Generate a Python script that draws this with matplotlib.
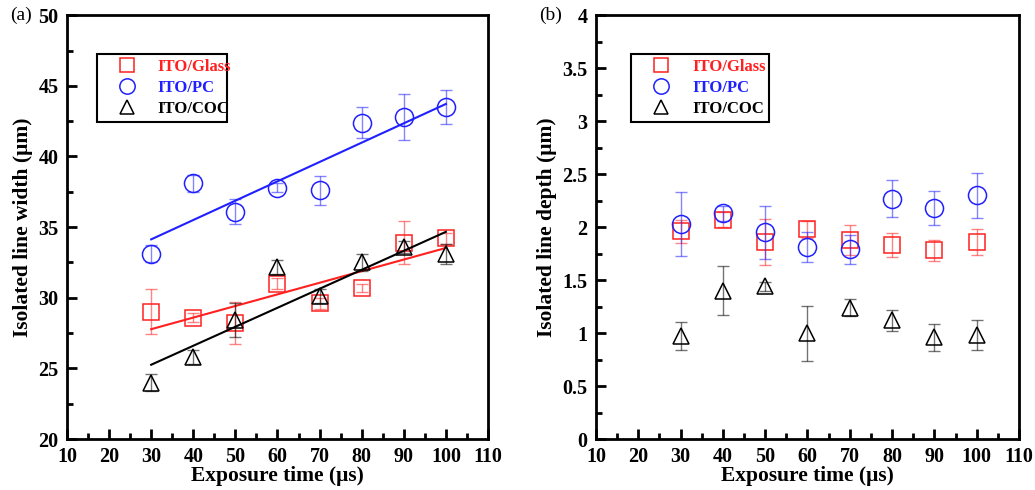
import matplotlib.pyplot as plt
import numpy as np
from matplotlib.ticker import MultipleLocator, FormatStrFormatter

#% Data
t = np.array([30, 40, 50, 60, 70, 80, 90, 100])

# (a) isolated line width [um]
w_glass = [29.0, 28.6, 28.2, 31.0, 29.6, 30.7, 33.9, 34.2]
w_glass_err = [1.6, 0.3, 1.5, 0.4, 0.4, 0.3, 1.5, 0.4]
w_pc = [33.1, 38.1, 36.1, 37.8, 37.6, 42.4, 42.8, 43.5]
w_pc_err = [0.6, 0.6, 0.9, 0.3, 1.0, 1.1, 1.6, 1.2]
w_coc = [24.0, 25.8, 28.4, 32.2, 30.1, 32.5, 33.6, 33.1]
w_coc_err = [0.6, 0.5, 1.2, 0.5, 0.5, 0.6, 0.4, 0.7]

# (b) isolated line depth [um]
d_glass = [1.96, 2.07, 1.86, 1.98, 1.88, 1.83, 1.78, 1.86]
d_glass_err = [0.11, 0.07, 0.22, 0.08, 0.14, 0.11, 0.10, 0.12]
d_pc = [2.03, 2.13, 1.95, 1.81, 1.79, 2.27, 2.18, 2.30]
d_pc_err = [0.30, 0.07, 0.25, 0.14, 0.14, 0.17, 0.16, 0.21]
d_coc = [0.97, 1.40, 1.44, 1.00, 1.24, 1.12, 0.96, 0.98]
d_coc_err = [0.13, 0.23, 0.04, 0.26, 0.08, 0.10, 0.13, 0.14]

labels = ['ITO/Glass', 'ITO/PC', 'ITO/COC']
colors = ['#ff2020', '#2020ff', 'black']
markers = ['s', 'o', '^']

plt.rcParams['font.family'] = ['Liberation Serif', 'DejaVu Serif']

fig = plt.figure(figsize=(10.35, 4.9), dpi=100)
ax1 = fig.add_axes([0.0647, 0.104, 0.4068, 0.865])
ax2 = fig.add_axes([0.5758, 0.104, 0.4087, 0.865])


def draw(ax, ys, errs, fit):
    handles = []
    for y, e, c, m in zip(ys, errs, colors, markers):
        ax.errorbar(t, y, yerr=e, fmt='none', ecolor=c, alpha=0.55,
                    elinewidth=1, capsize=4, capthick=1)
        h, = ax.plot(t, y, ls='none', marker=m, ms=12 if m != 'o' else 13,
                     mfc='none', mec=c, mew=1.1)
        handles.append(h)
        if fit:
            k, b = np.polyfit(t, y, 1)
            ax.plot(t[[0, -1]], k * t[[0, -1]] + b, color=c, lw=1.5)
    return handles


def style(ax, ylim, ymaj, ymin, ylabel, tag):
    ax.set_xlim(10, 110)
    ax.set_ylim(*ylim)
    ax.xaxis.set_major_locator(MultipleLocator(10))
    ax.xaxis.set_minor_locator(MultipleLocator(5))
    ax.yaxis.set_major_locator(MultipleLocator(ymaj))
    ax.yaxis.set_minor_locator(MultipleLocator(ymin))
    ax.yaxis.set_major_formatter(FormatStrFormatter('%g'))
    ax.tick_params(which='both', direction='in', top=False, right=False,
                   labelsize=14.5, pad=6)
    ax.tick_params(which='major', length=7, width=2)
    ax.tick_params(which='minor', length=4, width=2)
    for s in ax.spines.values():
        s.set_linewidth(2)
    for lab in ax.get_xticklabels() + ax.get_yticklabels():
        lab.set_fontweight('bold')
    ax.set_xlabel('Exposure time (μs)', fontsize=15.5, fontweight='bold', labelpad=-1)
    ax.set_ylabel(ylabel, fontsize=15.5, fontweight='bold', labelpad=4)
    ax.text(-0.135, 1.0, tag, transform=ax.transAxes, fontsize=14,
            va='center', ha='left')


h1 = draw(ax1, [w_glass, w_pc, w_coc], [w_glass_err, w_pc_err, w_coc_err], True)
style(ax1, (20, 50), 5, 2.5, 'Isolated line width (μm)', '(a)')
h2 = draw(ax2, [d_glass, d_pc, d_coc], [d_glass_err, d_pc_err, d_coc_err], False)
style(ax2, (0, 4), 0.5, 0.25, 'Isolated line depth (μm)', '(b)')

for ax, hs, x0, w in [(ax1, h1, 0.071, 0.31), (ax2, h2, 0.083, 0.326)]:
    leg = ax.legend(hs, labels, loc='upper left', bbox_to_anchor=(x0, 0.745, w, 0.163),
                    mode='expand', borderaxespad=0, fancybox=False, edgecolor='black',
                    framealpha=1, prop={'weight': 'bold', 'size': 12},
                    handlelength=3, handletextpad=0.35, borderpad=0.3,
                    labelspacing=0.3, markerscale=0.85)
    leg.get_frame().set_linewidth(1.5)
    for txt, c in zip(leg.get_texts(), colors):
        txt.set_color(c)

plt.savefig('out.png', dpi=100)
